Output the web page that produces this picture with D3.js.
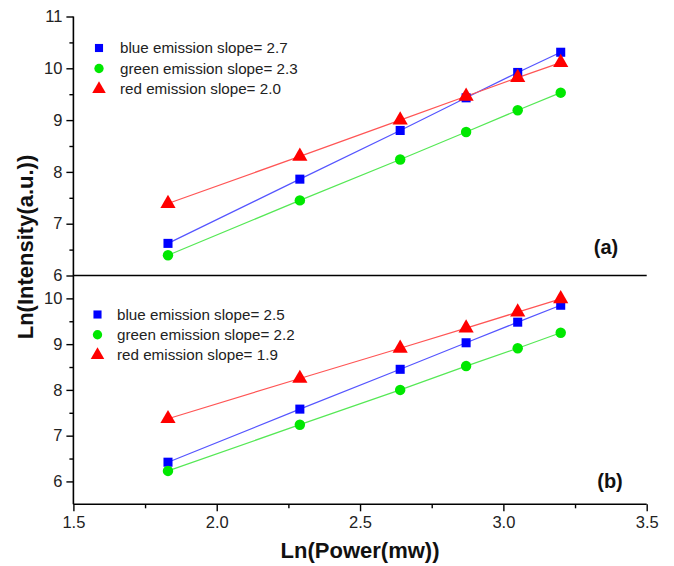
<!DOCTYPE html>
<html>
<head>
<meta charset="utf-8">
<script src="https://cdn.jsdelivr.net/npm/d3@7"></script>
<style>
  html, body { margin: 0; padding: 0; background: #fff; }
  svg { display: block; font-family: "Liberation Sans", Arial, sans-serif; }
</style>
</head>
<body>
<svg id="chart" width="674" height="566"></svg>
<script>
// Excitation power (natural log, mW) shared by both panels
const lnPower = [1.83, 2.29, 2.64, 2.87, 3.05, 3.20];

// Panel (a): ln of emission intensity
const blueA  = [6.62, 7.86, 8.80, 9.43, 9.92, 10.31];
const greenA = [6.39, 7.45, 8.24, 8.77, 9.19, 9.53];
const redA   = [7.39, 8.30, 9.00, 9.46, 9.82, 10.11];

// Panel (b): ln of emission intensity
const blueB  = [6.42, 7.58, 8.45, 9.03, 9.48, 9.85];
const greenB = [6.23, 7.24, 8.00, 8.52, 8.91, 9.25];
const redB   = [7.37, 8.25, 8.91, 9.35, 9.70, 9.99];

// Fitted slopes shown in the legends
const slopesA = [2.7, 2.3, 2.0];
const slopesB = [2.5, 2.2, 1.9];
const seriesNames = ["blue", "green", "red"];

// Tick values
const xTicks = [1.5, 2.0, 2.5, 3.0, 3.5];
const xMinor = [1.75, 2.25, 2.75, 3.25];
const yTicksA = [6, 7, 8, 9, 10, 11];
const yMinorA = [6.5, 7.5, 8.5, 9.5, 10.5];
const yTicksB = [6, 7, 8, 9, 10];
const yMinorB = [6.5, 7.5, 8.5, 9.5];

const svg = d3.select("#chart");

const markerColor = { blue: "#0000ff", green: "#00e800", red: "#ff0000" };
const lineColor   = { blue: "#5555ff", green: "#55e855", red: "#ff5555" };
const symbolType  = { blue: d3.symbolSquare, green: d3.symbolCircle, red: d3.symbolTriangle };
const symbolSize  = { blue: 82, green: 86, red: 100 };

const x = d3.scaleLinear().domain([1.5, 3.5]).range([73.4, 646.7]);
const yA = d3.scaleLinear().domain([6, 11]).range([275.5, 16.5]);
const yB = d3.scaleLinear().domain([5.5, 10.5]).range([504.3, 275.5]);

const tickFont = 16.5;

function styleAxis(g) {
  g.select(".domain").remove();
  g.selectAll("line").attr("stroke", "#000").attr("stroke-width", 1.4);
  g.selectAll("text").attr("font-size", tickFont).attr("fill", "#222")
    .attr("font-family", "'Liberation Sans', Arial, sans-serif");
}

// Left axis ticks for each panel
function yAxis(scale, major, minor) {
  svg.append("g").attr("transform", `translate(${x(1.5)},0)`)
    .call(d3.axisLeft(scale).tickValues(major).tickFormat(d3.format("d")).tickSize(7).tickPadding(4))
    .call(styleAxis);
  svg.append("g").attr("transform", `translate(${x(1.5)},0)`)
    .call(d3.axisLeft(scale).tickValues(minor).tickFormat("").tickSize(4))
    .call(styleAxis);
}
yAxis(yA, yTicksA, yMinorA);
yAxis(yB, yTicksB, yMinorB);

// Bottom axis
svg.append("g").attr("transform", `translate(0,${yB(5.5)})`)
  .call(d3.axisBottom(x).tickValues(xTicks).tickFormat(d3.format(".1f")).tickSize(7).tickPadding(5))
  .call(styleAxis);
svg.append("g").attr("transform", `translate(0,${yB(5.5)})`)
  .call(d3.axisBottom(x).tickValues(xMinor).tickFormat("").tickSize(4))
  .call(styleAxis);

// Frame lines: left axis spanning both panels, divider and bottom axis
svg.append("line")
  .attr("x1", x(1.5)).attr("x2", x(1.5))
  .attr("y1", yA(11)).attr("y2", yB(5.5))
  .attr("stroke", "#000").attr("stroke-width", 1.6);
svg.append("line")
  .attr("x1", x(1.5)).attr("x2", x(3.5))
  .attr("y1", yA(6)).attr("y2", yA(6))
  .attr("stroke", "#000").attr("stroke-width", 1.6);
svg.append("line")
  .attr("x1", x(1.5)).attr("x2", x(3.5))
  .attr("y1", yB(5.5)).attr("y2", yB(5.5))
  .attr("stroke", "#000").attr("stroke-width", 1.6);

// Series in a panel: thin connecting line plus filled markers
function drawPanel(scale, data) {
  seriesNames.forEach((name, i) => {
    const vals = data[i];
    const pts = lnPower.map((p, j) => [p, vals[j]]);
    svg.append("path")
      .attr("d", d3.line().x(d => x(d[0])).y(d => scale(d[1]))(pts))
      .attr("fill", "none")
      .attr("stroke", lineColor[name])
      .attr("stroke-width", 1.2);
  });
  seriesNames.forEach((name, i) => {
    const vals = data[i];
    const sym = d3.symbol().type(symbolType[name]).size(symbolSize[name]);
    svg.append("g").selectAll("path").data(lnPower.map((p, j) => [p, vals[j]]))
      .join("path")
      .attr("transform", d => `translate(${x(d[0])},${scale(d[1])})`)
      .attr("d", sym)
      .attr("fill", markerColor[name]);
  });
}
drawPanel(yA, [blueA, greenA, redA]);
drawPanel(yB, [blueB, greenB, redB]);

// Legends
function legend(mx, tx, y0, dy, slopes) {
  seriesNames.forEach((name, i) => {
    const yy = y0 + i * dy;
    const sym = d3.symbol().type(symbolType[name]).size(symbolSize[name] * 0.8);
    svg.append("path")
      .attr("transform", `translate(${mx},${yy})`)
      .attr("d", sym)
      .attr("fill", markerColor[name]);
    svg.append("text")
      .attr("x", tx).attr("y", yy)
      .attr("dy", "0.35em")
      .attr("font-size", 15.2)
      .attr("fill", "#222")
      .text(`${name} emission slope= ${d3.format(".1f")(slopes[i])}`);
  });
}
legend(99, 120, 48, 20.5, slopesA);
legend(97.5, 117, 314.5, 20.3, slopesB);

// Panel tags
svg.append("text").attr("x", 606).attr("y", 254).attr("text-anchor", "middle")
  .attr("font-size", 20).attr("font-weight", "bold").attr("fill", "#111").text("(a)");
svg.append("text").attr("x", 610).attr("y", 488).attr("text-anchor", "middle")
  .attr("font-size", 20).attr("font-weight", "bold").attr("fill", "#111").text("(b)");

// Axis titles
svg.append("text").attr("x", (x(1.5) + x(3.5)) / 2).attr("y", 558).attr("text-anchor", "middle")
  .attr("font-size", 22).attr("font-weight", "bold").attr("fill", "#111").text("Ln(Power(mw))");
svg.append("text")
  .attr("transform", "translate(33,247) rotate(-90)")
  .attr("text-anchor", "middle")
  .attr("font-size", 22).attr("font-weight", "bold").attr("fill", "#111").text("Ln(Intensity(a.u.))");
</script>
</body>
</html>
